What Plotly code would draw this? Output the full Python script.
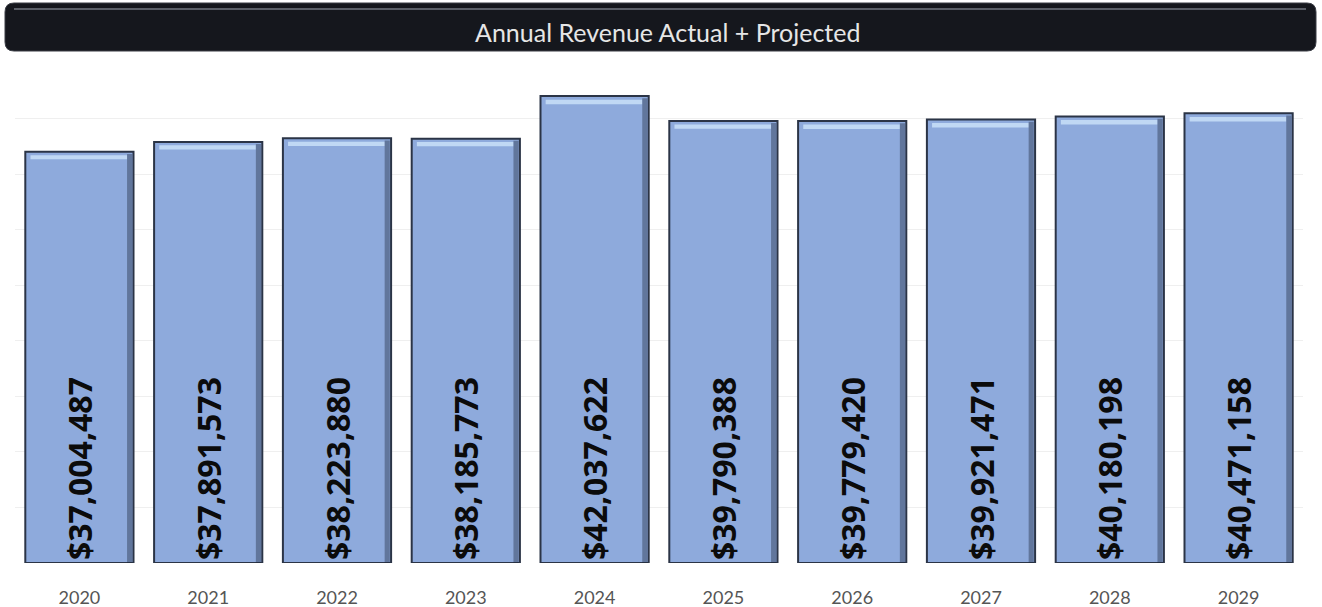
import plotly.graph_objects as go

years = ["2020", "2021", "2022", "2023", "2024", "2025", "2026", "2027", "2028", "2029"]
revenue = [37004487, 37891573, 38223880, 38185773, 42037622,
           39790388, 39779420, 39921471, 40180198, 40471158]
title_text = "Annual Revenue Actual + Projected"

W, H = 1322, 607
ML, MR, MT, MB = 15, 19, 63, 44
PW, PH = W - ML - MR, H - MT - MB
BAR_FILL = "#8eaadc"
BAR_EDGE = "#2b3446"
GAP = 0.16


def px_x(p):
    """figure pixel column -> paper x"""
    return (p - ML) / PW


def px_y(p):
    """figure pixel row (from top) -> paper y"""
    return (H - MB - p) / PH


labels = ["${:,}".format(v) for v in revenue]

fig = go.Figure()
fig.add_trace(go.Bar(
    x=years, y=revenue,
    marker=dict(color=BAR_FILL, line=dict(color=BAR_EDGE, width=2)),
    text=labels, textposition="inside", insidetextanchor="start",
    textangle=-90,
    textfont=dict(family="Open Sans", size=32, color="#0b0b0b", weight=700),
    hoverinfo="x+y",
))

# bevel: light strip just under each bar top, dark strip along the right edge
half = (1 - GAP) / 2
for i, v in enumerate(revenue):
    fig.add_shape(type="rect", xref="x", yref="y",
                  x0=i - half + 0.04, x1=i + half - 0.05,
                  y0=v * 0.982, y1=v * 0.992,
                  fillcolor="rgba(205,228,250,0.8)", line_width=0, layer="above")
    fig.add_shape(type="rect", xref="x", yref="y",
                  x0=i + half - 0.05, x1=i + half - 0.01,
                  y0=0, y1=v * 0.995,
                  fillcolor="rgba(30,40,60,0.4)", line_width=0, layer="above")

# dark rounded title banner with a faint gloss line near its top
x0, x1 = px_x(5), px_x(1316)
y0, y1 = px_y(51), px_y(3)
rx, ry = 9 / PW, 9 / PH
path = (f"M {x0+rx},{y1} L {x1-rx},{y1} Q {x1},{y1} {x1},{y1-ry} "
        f"L {x1},{y0+ry} Q {x1},{y0} {x1-rx},{y0} L {x0+rx},{y0} "
        f"Q {x0},{y0} {x0},{y0+ry} L {x0},{y1-ry} Q {x0},{y1} {x0+rx},{y1} Z")
fig.add_shape(type="path", xref="paper", yref="paper", path=path,
              fillcolor="#15171d", line=dict(color="#3a3d45", width=1), layer="above")
fig.add_shape(type="line", xref="paper", yref="paper",
              x0=px_x(14), x1=px_x(1306), y0=px_y(9), y1=px_y(9),
              line=dict(color="rgba(150,155,165,0.55)", width=2), layer="above")
fig.add_annotation(xref="paper", yref="paper", x=px_x(667), y=px_y(32),
                   xanchor="center", yanchor="middle",
                   text=title_text, showarrow=False,
                   font=dict(family="Lato", size=25, color="#e6e6e6"))

fig.update_layout(
    width=W, height=H,
    margin=dict(l=ML, r=MR, t=MT, b=MB),
    paper_bgcolor="white", plot_bgcolor="white",
    bargap=GAP, showlegend=False,
    uniformtext=dict(minsize=10, mode="show"),
    xaxis=dict(showline=False, ticks="", ticklabelstandoff=22, automargin=False,
               tickfont=dict(family="Lato", size=18, color="#555555")),
    yaxis=dict(range=[0, 45e6], dtick=5e6, showticklabels=False, automargin=False,
               gridcolor="#efefef", gridwidth=1, zeroline=False, fixedrange=True),
)

fig.write_html("out.html")
